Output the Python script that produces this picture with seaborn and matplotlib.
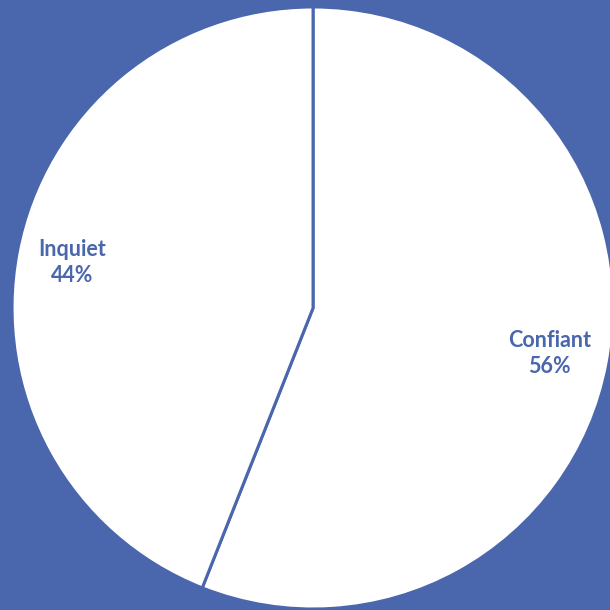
import seaborn as sns
import matplotlib.pyplot as plt

# data
categories = ['Confiant', 'Inquiet']
shares = [56, 44]

blue = '#4A66AC'

sns.set_style('white')
plt.rcParams['font.family'] = ['Lato', 'DejaVu Sans']

fig = plt.figure(figsize=(6.1, 6.1), dpi=100, facecolor=blue)
ax = fig.add_axes([0.0197, 0.0016, 0.987, 0.987])
ax.set_facecolor(blue)

labels = [f'{c}\n{s}%' for c, s in zip(categories, shares)]
wedges, texts = ax.pie(shares, labels=labels, startangle=90, counterclock=False,
                       colors=['white', 'white'], labeldistance=0.8,
                       wedgeprops=dict(edgecolor=blue, linewidth=2.2),
                       textprops=dict(color=blue, fontsize=15.5, fontweight='bold'))
for t in texts:
    t.set_ha('center')
    t.set_va('center')
    t.set_linespacing(1.3)
# nudge the left label a bit outward, as in the reference
texts[1].set_x(texts[1].get_position()[0] - 0.015)

ax.set_xlim(-1, 1)
ax.set_ylim(-1, 1)
ax.set_aspect('equal')
ax.axis('off')

fig.savefig('out.png', dpi=100, facecolor=blue)
